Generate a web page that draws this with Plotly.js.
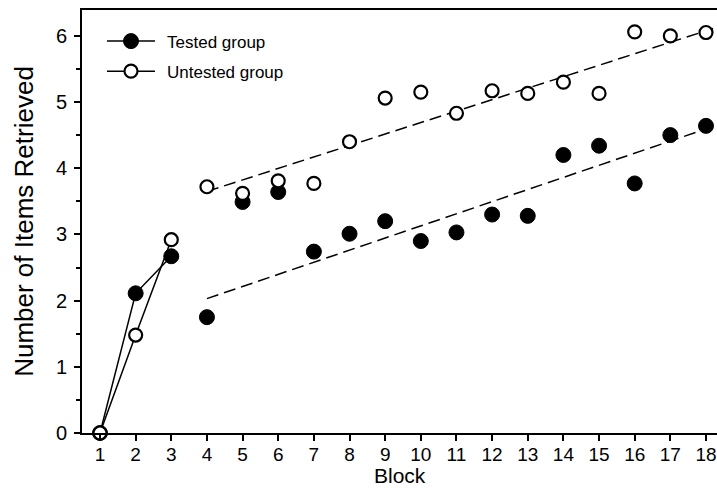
<!DOCTYPE html>
<html>
<head>
<meta charset="utf-8">
<script src="https://cdn.plot.ly/plotly-3.0.1.min.js"></script>
<style>html,body{margin:0;padding:0;background:#fff;}#chart{width:717px;height:502px;}</style>
</head>
<body>
<div id="chart"></div>
<script>
const blocks = [1,2,3,4,5,6,7,8,9,10,11,12,13,14,15,16,17,18];
const tested = [0,2.11,2.67,1.75,3.49,3.64,2.74,3.01,3.20,2.90,3.03,3.30,3.28,4.20,4.34,3.77,4.50,4.64];
const untested = [0,1.48,2.92,3.72,3.62,3.81,3.77,4.40,5.06,5.15,4.83,5.17,5.13,5.30,5.13,6.06,6.00,6.05];
const trendX = [4, 18.2];
const testedTrend = [2.03, 4.63];
const untestedTrend = [3.65, 6.11];
const xTicks = blocks;
const yTicks = [0,1,2,3,4,5,6];

const FONT = 'Liberation Sans, Arial, sans-serif';
const filledMarker = {symbol:'circle', size:15, color:'#000', line:{color:'#000', width:1}};
const openMarker = {symbol:'circle', size:13, color:'#fff', line:{color:'#000', width:2.2}};

const data = [
  {x: trendX, y: testedTrend, mode:'lines', line:{color:'#000', width:1.5, dash:'12px,6px'}, showlegend:false, hoverinfo:'skip'},
  {x: trendX, y: untestedTrend, mode:'lines', line:{color:'#000', width:1.5, dash:'12px,6px'}, showlegend:false, hoverinfo:'skip'},
  {x: blocks.slice(0,3), y: tested.slice(0,3), mode:'lines+markers', name:'Tested group', legendgroup:'t',
   line:{color:'#000', width:1.5}, marker: filledMarker, cliponaxis:false},
  {x: blocks.slice(3), y: tested.slice(3), mode:'markers', name:'Tested group', legendgroup:'t', showlegend:false,
   marker: filledMarker, cliponaxis:false},
  {x: blocks.slice(0,3), y: untested.slice(0,3), mode:'lines+markers', name:'Untested group', legendgroup:'u',
   line:{color:'#000', width:1.5}, marker: openMarker, cliponaxis:false},
  {x: blocks.slice(3), y: untested.slice(3), mode:'markers', name:'Untested group', legendgroup:'u', showlegend:false,
   marker: openMarker, cliponaxis:false}
];

const layout = {
  width:717, height:502,
  margin:{l:82, r:0, t:10, b:69},
  paper_bgcolor:'#fff', plot_bgcolor:'#fff',
  font:{family:FONT, color:'#000', size:18},
  showlegend:true,
  legend:{x:0.0315, y:0.968, xanchor:'left', yanchor:'top', bgcolor:'rgba(0,0,0,0)',
          font:{family:FONT, size:17, color:'#000'}, itemwidth:55, tracegroupgap:5},
  xaxis:{
    range:[0.495, 18.309], showgrid:false, zeroline:false,
    showline:true, linecolor:'#000', linewidth:2, mirror:true,
    ticks:'outside', ticklen:6, tickwidth:2, tickcolor:'#000',
    tickmode:'array', tickvals:xTicks, ticktext:xTicks.map(String),
    tickfont:{family:FONT, size:19, color:'#000'}, ticklabelstandoff:-3
  },
  yaxis:{
    range:[0, 6.39], showgrid:false, zeroline:false,
    showline:true, linecolor:'#000', linewidth:2,
    ticks:'outside', ticklen:6, tickwidth:2, tickcolor:'#000',
    tickmode:'array', tickvals:yTicks, ticktext:yTicks.map(String),
    tickfont:{family:FONT, size:20, color:'#000'}, ticklabelstandoff:3,
    minor:{tickmode:'linear', tick0:0, dtick:0.5, ticks:'outside', ticklen:4, tickwidth:2, tickcolor:'#000', showgrid:false},
    title:{text:'Number of Items Retrieved', font:{family:FONT, size:26, color:'#000'}, standoff:15}
  },
  annotations:[
    {text:'Block', xref:'paper', yref:'paper', x:0.5, y:-0.1, xanchor:'center', yanchor:'middle',
     showarrow:false, font:{family:FONT, size:21, color:'#000'}}
  ]
};

Plotly.newPlot('chart', data, layout, {displayModeBar:false, staticPlot:true}).then(function(gd){
  // lengthen legend sample lines to match the reference
  gd.querySelectorAll('.legend .legendlines path').forEach(function(p){ p.setAttribute('d','M5,0h48'); });
  gd.querySelectorAll('.legend .legendpoints path.scatterpts').forEach(function(p){ p.setAttribute('transform','translate(29,0)'); });
});
</script>
</body>
</html>
